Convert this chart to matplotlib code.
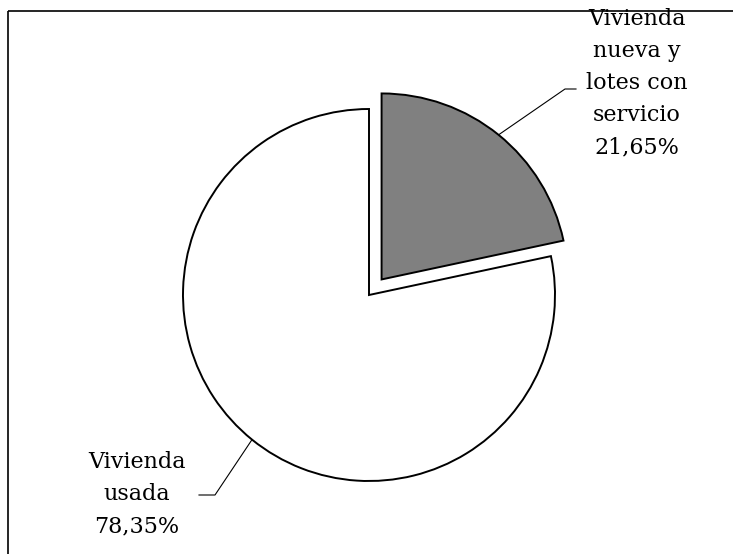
import numpy as np
import matplotlib.pyplot as plt

labels = ["Vivienda\nnueva y\nlotes con\nservicio\n21,65%", "Vivienda\nusada\n78,35%"]
values = [21.65, 78.35]
colors = ["#808080", "#ffffff"]

W, H = 733, 554
fig = plt.figure(figsize=(W / 100, H / 100), dpi=100)
ax = fig.add_axes([0, 0, 1, 1])

# outer frame (only top and left edges are visible)
ax.plot([8, W], [H - 11, H - 11], color="black", lw=1.2, solid_capstyle="butt")
ax.plot([8, 8], [H - 11, 0], color="black", lw=1.2, solid_capstyle="butt")

# explode is in data units here (pixels), not a fraction of the radius
wedges, _ = ax.pie(values, colors=colors, startangle=90, counterclock=False,
                   explode=[20, 0], center=(369, 259), radius=186,
                   wedgeprops=dict(edgecolor="black", linewidth=1.4),
                   frame=True)
ax.set_xlim(0, W)
ax.set_ylim(0, H)
ax.axis("off")


def edge_point(w):
    mid = np.deg2rad((w.theta1 + w.theta2) / 2)
    cx, cy = w.center
    return cx + w.r * np.cos(mid), cy + w.r * np.sin(mid)


font = dict(family="DejaVu Serif", fontsize=16, ha="center", va="center",
            linespacing=1.6)

# top right label
x0, y0 = edge_point(wedges[0])
ax.plot([x0, 565, 576], [y0, H - 89, H - 89], color="black", lw=0.8)
ax.text(637, H - 83, labels[0], **font)

# bottom left label
x1, y1 = edge_point(wedges[1])
ax.plot([x1, 215, 199], [y1, H - 495, H - 495], color="black", lw=0.8)
ax.text(137, H - 494, labels[1], **font)

fig.savefig("out.png", dpi=100)
